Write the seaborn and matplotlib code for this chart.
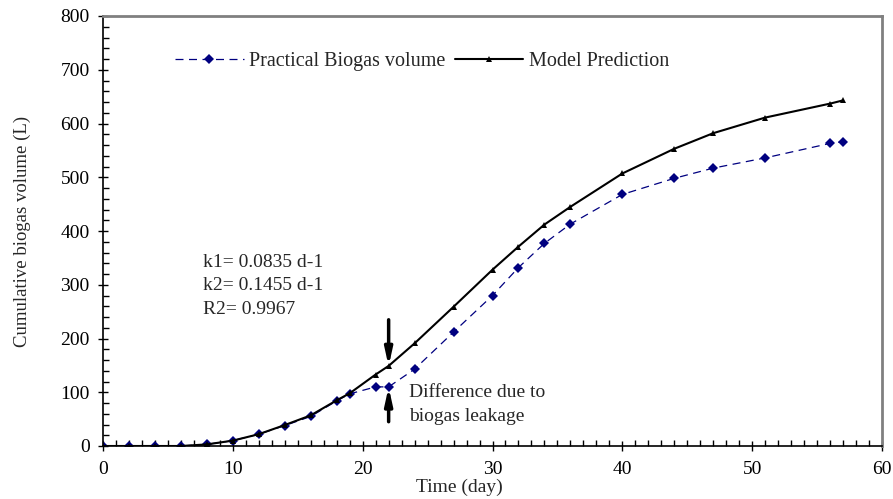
import matplotlib
matplotlib.use("Agg")
import matplotlib.pyplot as plt
import seaborn as sns
import pandas as pd
from matplotlib.ticker import MultipleLocator

days = [0, 2, 4, 6, 8, 10, 12, 14, 16, 18, 19, 21, 22, 24, 27, 30, 32, 34, 36, 40, 44, 47, 51, 56, 57]
practical = [0, 0, 0, 0, 3, 10, 22, 38, 55, 84, 97, 110, 110, 143, 212, 280, 332, 377, 413, 468, 498, 517, 536, 563, 566]
model = [0, 0, 0, 0, 3, 10, 22, 39, 57, 85, 98, 133, 149, 191, 259, 328, 371, 412, 445, 507, 553, 582, 611, 637, 643]

series_names = ["Practical Biogas volume", "Model Prediction"]
annot_lines = ["k1= 0.0835 d-1", "k2= 0.1455 d-1", "R2= 0.9967"]
diff_lines = ["Difference due to", "biogas leakage"]

sns.set_style("ticks")
plt.rcParams['font.family'] = ['Liberation Serif', 'DejaVu Serif']

fig = plt.figure(figsize=(8.93, 4.99), dpi=100)
ax = fig.add_axes([103/893, 1-446/499, (882-103)/893, (446-16)/499])

df = pd.DataFrame({"day": days, "practical": practical, "model": model})

sns.lineplot(data=df, x="day", y="practical", ax=ax, color="#000080", marker="D",
             markersize=5.5, markeredgewidth=0, linewidth=0.9, label=series_names[0])
sns.lineplot(data=df, x="day", y="model", ax=ax, color="black", marker="^",
             markersize=4, markeredgewidth=0, linewidth=1.5, label=series_names[1])
ax.lines[0].set_dashes((6.4, 4.4))

FS = 14
ax.set_xlim(0, 60)
ax.set_ylim(0, 800)
ax.xaxis.set_major_locator(MultipleLocator(10))
ax.xaxis.set_minor_locator(MultipleLocator(1))
ax.yaxis.set_major_locator(MultipleLocator(100))
ax.yaxis.set_minor_locator(MultipleLocator(20))
ax.tick_params(which="major", direction="inout", length=7, width=1, labelsize=FS, color="black", labelcolor="black")
ax.tick_params(which="minor", direction="in", length=4, width=1, color="black")
ax.tick_params(axis="x", which="major", pad=7)
ax.tick_params(axis="y", which="major", pad=6)

for s in ["left", "bottom"]:
    ax.spines[s].set_color("black")
    ax.spines[s].set_linewidth(1.2)
for s in ["top", "right"]:
    ax.spines[s].set_visible(True)
    ax.spines[s].set_color("#808080")
    ax.spines[s].set_linewidth(2)

ax.set_xlabel("Time (day)", fontsize=FS)
ax.xaxis.label.set_va("center")
ax.xaxis.set_label_coords((459-103)/779, -(487-446)/430)
ax.set_ylabel("Cumulative biogas volume (L)", fontsize=13.5)
ax.yaxis.label.set_va("center")
ax.yaxis.set_label_coords(-(103-22)/779, 0.5)

leg = ax.legend(loc="center left", bbox_to_anchor=((167-103)/779, (446-61)/430), ncol=2,
                frameon=False, fontsize=14.5, handlelength=3.4, handletextpad=0.25,
                columnspacing=0.5, borderaxespad=0)

for i, t in enumerate(annot_lines):
    ax.text(7.7, 342 - i*44, t, fontsize=FS, va="center", ha="left")

for i, t in enumerate(diff_lines):
    ax.text(23.6, 99 - i*45, t, fontsize=FS, va="center", ha="left")

ax.annotate("", xy=(22, 143), xytext=(22, 240),
            arrowprops=dict(arrowstyle="-|>,head_width=0.22,head_length=1.0", lw=2.5, color="black"))
ax.annotate("", xy=(22, 115), xytext=(22, 40),
            arrowprops=dict(arrowstyle="-|>,head_width=0.22,head_length=1.0", lw=2.5, color="black"))

fig.savefig("out.png", dpi=100)
